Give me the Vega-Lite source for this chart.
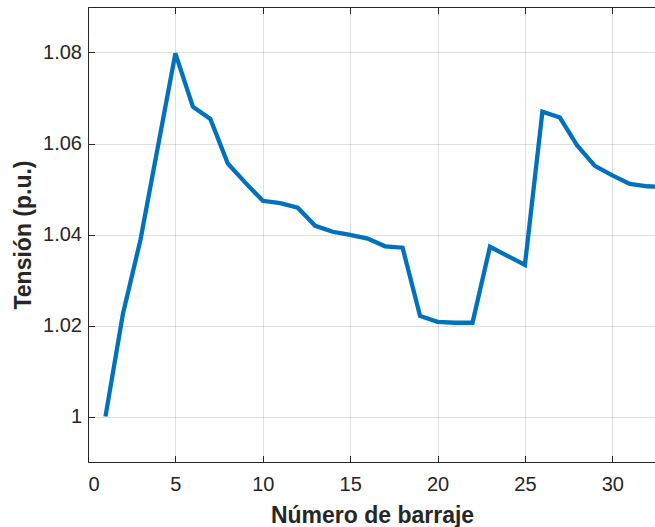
{
  "$schema": "https://vega.github.io/schema/vega-lite/v6.json",
  "autosize": {"type": "none"},
  "padding": {"left": 88, "top": 7, "right": 0, "bottom": 65},
  "width": 568,
  "height": 455,
  "background": "white",
  "config": {
    "view": {"stroke": null},
    "axis": {
      "labelFont": "Liberation Sans",
      "titleFont": "Liberation Sans",
      "labelFontSize": 20,
      "titleFontSize": 23,
      "labelColor": "#262626",
      "titleColor": "#262626",
      "titleFontWeight": "bold",
      "domainColor": "#262626",
      "tickColor": "#262626",
      "gridColor": "#262626",
      "gridOpacity": 0.15,
      "tickSize": -6.5
    }
  },
  "data": {
    "values": [
      {"barra": 1, "v": 1.0},
      {"barra": 2, "v": 1.0226},
      {"barra": 3, "v": 1.0388},
      {"barra": 4, "v": 1.0593},
      {"barra": 5, "v": 1.0798},
      {"barra": 6, "v": 1.0681},
      {"barra": 7, "v": 1.0654},
      {"barra": 8, "v": 1.0556},
      {"barra": 9, "v": 1.0514},
      {"barra": 10, "v": 1.0474},
      {"barra": 11, "v": 1.0469},
      {"barra": 12, "v": 1.0459},
      {"barra": 13, "v": 1.0419},
      {"barra": 14, "v": 1.0406},
      {"barra": 15, "v": 1.0399},
      {"barra": 16, "v": 1.0391},
      {"barra": 17, "v": 1.0374},
      {"barra": 18, "v": 1.0371},
      {"barra": 19, "v": 1.0221},
      {"barra": 20, "v": 1.0208},
      {"barra": 21, "v": 1.0206},
      {"barra": 22, "v": 1.0206},
      {"barra": 23, "v": 1.0373},
      {"barra": 24, "v": 1.0353},
      {"barra": 25, "v": 1.0333},
      {"barra": 26, "v": 1.067},
      {"barra": 27, "v": 1.0657},
      {"barra": 28, "v": 1.0595},
      {"barra": 29, "v": 1.0551},
      {"barra": 30, "v": 1.053},
      {"barra": 31, "v": 1.0511},
      {"barra": 32, "v": 1.0506},
      {"barra": 33, "v": 1.0504}
    ]
  },
  "layer": [
    {
      "mark": {"type": "line", "color": "#0072BD", "strokeWidth": 4.3, "clip": true, "strokeJoin": "miter"},
      "encoding": {
        "x": {
          "field": "barra", "type": "quantitative",
          "scale": {"domain": [0, 32.5], "nice": false, "zero": false},
          "axis": {
            "values": [0, 5, 10, 15, 20, 25, 30],
            "title": "Número de barraje",
            "labelPadding": 19,
            "titlePadding": 10,
            "grid": true
          }
        },
        "y": {
          "field": "v", "type": "quantitative",
          "scale": {"domain": [0.99, 1.09], "nice": false, "zero": false},
          "axis": {
            "values": [1, 1.02, 1.04, 1.06, 1.08],
            "format": ".2~f",
            "title": "Tensión (p.u.)",
            "labelPadding": 13,
            "titlePadding": 7,
            "grid": true
          }
        }
      }
    },
    {
      "mark": {"type": "line", "strokeOpacity": 0, "clip": true},
      "encoding": {
        "x": {
          "field": "barra", "type": "quantitative",
          "axis": {
            "orient": "top",
            "values": [0, 5, 10, 15, 20, 25, 30],
            "labels": false,
            "title": null,
            "grid": false
          }
        },
        "y": {"field": "v", "type": "quantitative"}
      }
    }
  ],
  "resolve": {"axis": {"x": "independent"}}
}
